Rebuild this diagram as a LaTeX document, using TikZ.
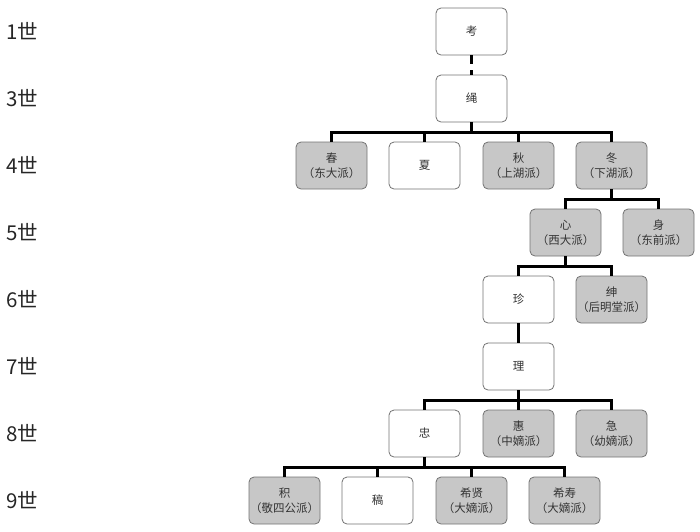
\documentclass[tikz,border=0pt]{standalone}
\usepackage{fontspec}
\setmainfont{Noto Sans CJK SC}
\begin{document}
\begin{tikzpicture}[x=1pt,y=-1pt,
  pbox/.style={draw=black!55,line width=0.8pt,rounded corners=5pt,minimum width=71pt,minimum height=47pt,inner sep=1pt,align=center,font=\fontsize{11.5}{15}\selectfont,text=black!80},
  wbox/.style={pbox,fill=white},
  gbox/.style={pbox,fill=black!22},
  conn/.style={line width=2.3pt,black},
  gen/.style={anchor=west,font=\fontsize{20.5}{24}\selectfont,text=black!85}]
\useasboundingbox (0,0) rectangle (700,531);
% generation labels
\node[gen] (g1) at (3,31.5) {1世};
\node[gen] (g3) at (3,98.5) {3世};
\node[gen] (g4) at (3,165.5) {4世};
\node[gen] (g5) at (3,232.5) {5世};
\node[gen] (g6) at (3,299.5) {6世};
\node[gen] (g7) at (3,366.5) {7世};
\node[gen] (g8) at (3,433.5) {8世};
\node[gen] (g9) at (3,500.5) {9世};
% nodes
\node[wbox] (kao) at (471.5,31.5) {考};
\node[wbox] (sheng) at (471.5,98.5) {绳};
\node[gbox] (chun) at (331.5,165.5) {春\\（东大派）};
\node[wbox] (xia) at (424.5,165.5) {夏};
\node[gbox] (qiu) at (518.5,165.5) {秋\\（上湖派）};
\node[gbox] (dong) at (611.5,165.5) {冬\\（下湖派）};
\node[gbox] (xin) at (565.5,232.5) {心\\（西大派）};
\node[gbox] (shen) at (658.5,232.5) {身\\（东前派）};
\node[wbox] (zhen) at (518.5,299.5) {珍};
\node[gbox] (shen2) at (611.5,299.5) {绅\\（后明堂派）};
\node[wbox] (li) at (518.5,366.5) {理};
\node[wbox] (zhong) at (424.5,433.5) {忠};
\node[gbox] (hui) at (518.5,433.5) {惠\\（中嫡派）};
\node[gbox] (ji) at (611.5,433.5) {急\\（幼嫡派）};
\node[gbox] (zhi) at (284.5,500.5) {积\\（敬四公派）};
\node[wbox] (gao) at (377.5,500.5) {稿};
\node[gbox] (xixian) at (471.5,500.5) {希贤\\（大嫡派）};
\node[gbox] (xishou) at (564.5,500.5) {希寿\\（大嫡派）};
% connectors
\draw[conn,dash pattern=on 9pt off 6pt] (kao.south) -- (sheng.north);
\draw[conn] (sheng.south) -- ++(0,10) coordinate (b1);
\draw[conn] (chun.north) |- (b1) -| (dong.north);
\draw[conn] (xia.north) -- (xia.north |- b1);
\draw[conn] (qiu.north) -- (qiu.north |- b1);
\draw[conn] (dong.south) -- ++(0,10) coordinate (b2);
\draw[conn] (xin.north) |- (b2) -| (shen.north);
\draw[conn] (xin.south) -- ++(0,10) coordinate (b3);
\draw[conn] (zhen.north) |- (b3) -| (shen2.north);
\draw[conn] (zhen.south) -- (li.north);
\draw[conn] (li.south) -- ++(0,10) coordinate (b4);
\draw[conn] (zhong.north) |- (b4) -| (ji.north);
\draw[conn] (hui.north) -- (hui.north |- b4);
\draw[conn] (zhong.south) -- ++(0,10) coordinate (b5);
\draw[conn] (zhi.north) |- (b5) -| (xishou.north);
\draw[conn] (gao.north) -- (gao.north |- b5);
\draw[conn] (xixian.north) -- (xixian.north |- b5);
\end{tikzpicture}
\end{document}
